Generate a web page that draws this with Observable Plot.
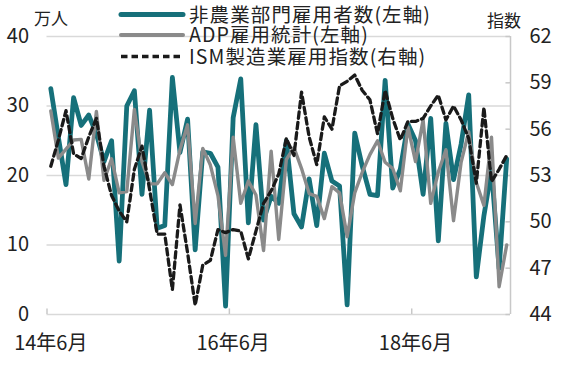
<!DOCTYPE html>
<html>
<head>
<meta charset="utf-8">
<script src="https://cdn.jsdelivr.net/npm/d3@7"></script>
<script src="https://cdn.jsdelivr.net/npm/@observablehq/plot@0.6"></script>
<style>
  html, body { margin: 0; padding: 0; background: #fff; }
  #chart svg { display: block; }
</style>
</head>
<body>
<div id="chart"></div>
<script>
// Monthly data, 2014-06 .. 2019-06 (61 months)
const nfp = [32.5, 25.5, 18.7, 31.2, 27.2, 28.7, 26, 22, 25, 7.7,
  30, 32.2, 17.3, 29.4, 12.4, 12.8, 34.1, 23.3, 28.1, 9.3,
  23.4, 23.2, 21.2, 1.2, 28.3, 33.9, 13.2, 27.3, 13.6, 17,
  16, 25, 14.5, 12.6, 19.5, 12.8, 23.2, 19.2, 18.5, 1.4,
  26.1, 21.3, 17.3, 17.1, 33.7, 18.2, 20.9, 27.4, 25, 17.3,
  28.2, 10.6, 27.5, 19.4, 24.5, 31.6, 5.4, 14.2, 20.8, 6.6,
  22.4];
const adp = [29.3, 22.5, 23.8, 25.1, 25.2, 19.5, 29.2, 19.3, 22.4, 17.5,
  17.7, 29.5, 22, 18.8, 18.8, 20.4, 18.7, 23.7, 27.3, 13.1,
  23.9, 21.5, 17.1, 8.5, 25.5, 16, 19.2, 17.2, 9.2, 23.5,
  10.8, 22.3, 24, 21, 17.4, 17, 13.8, 18.4, 17.5, 11.2,
  17.5, 20.5, 23, 25, 21.9, 21, 17.8, 27, 22, 28,
  16, 20.5, 23.7, 13.5, 21.9, 26.3, 19, 15.7, 25.5, 4,
  10];
const ism = [53.6, 55.3, 57.2, 54.4, 54.1, 55.5, 56.7, 53.6, 51.7, 50.7,
  50, 53.4, 54.9, 52.1, 49.2, 49.2, 45.6, 51.1, 48, 44.6,
  47.2, 47.5, 49.5, 49.3, 49.5, 49.4, 47.6, 49.4, 51.2, 52,
  53.1, 55.4, 54.3, 58.4, 55.5, 53.7, 56.8, 56, 58.8, 59.1,
  59.5, 58.5, 57.9, 55.7, 58.5, 56.7, 55.3, 56.5, 56.5, 56.7,
  57.5, 58.2, 56.6, 57.5, 56.6, 55.4, 52.5, 57.4, 52.6, 53.4,
  54.3];

const xTickIndex = [0, 24, 48];
const xTickLabels = ["14年6月", "16年6月", "18年6月"];
const leftTicks = [0, 10, 20, 30, 40];
const rightTicks = [44, 47, 50, 53, 56, 59, 62];
const seriesNames = ["非農業部門雇用者数(左軸)", "ADP雇用統計(左軸)", "ISM製造業雇用指数(右軸)"];
const leftUnit = "万人";
const rightUnit = "指数";

const TEAL = "#16707a", GRAY = "#8a8a8a", DASH = "#1a1a1a", GRID = "#d9d9d9", TXT = "#222";
const FONT = "'Noto Sans CJK JP', 'Noto Sans', sans-serif";

// right axis (44..62) mapped onto left scale (0..40)
const toL = r => (r - 44) * 40 / 18;
const fromL = v => v * 18 / 40 + 44;

const n = nfp.length;
const rows = d3.range(n).map(i => ({i, nfp: nfp[i], adp: adp[i], ism: toL(ism[i])}));

const chart = Plot.plot({
  width: 561,
  height: 386,
  marginLeft: 46.5,
  marginRight: 51,
  marginTop: 36,
  marginBottom: 72,
  style: {fontFamily: FONT, fontSize: "19px", color: TXT, background: "#fff"},
  x: {domain: [-0.5, n - 0.5]},
  y: {domain: [0, 40]},
  marks: [
    Plot.ruleY(leftTicks, {stroke: GRID, strokeWidth: 1.5}),
    Plot.ruleX([n - 0.5], {stroke: "#c8c8c8", strokeWidth: 1.5}),
    Plot.ruleX(xTickIndex.map(i => i - 0.5), {y1: 0, y2: 0.8, stroke: "#c8c8c8", strokeWidth: 1.5}),
    Plot.ruleY(rightTicks.map(toL), {x1: n - 0.5 - 0.6, x2: n - 0.5, stroke: "#c8c8c8", strokeWidth: 1.5}),
    Plot.axisY({ticks: leftTicks, tickSize: 0, tickPadding: 18, label: null, fontSize: 20}),
    Plot.axisY({anchor: "right", ticks: rightTicks.map(toL), tickFormat: d => Math.round(fromL(d)),
      tickSize: 0, tickPadding: 19, label: null, fontSize: 20}),
    Plot.axisX({ticks: xTickIndex, tickFormat: d => xTickLabels[xTickIndex.indexOf(d)],
      tickSize: 0, tickPadding: 21, label: null, fontSize: 20}),
    Plot.line(rows, {x: "i", y: "nfp", stroke: TEAL, strokeWidth: 4.8, strokeLinejoin: "round", strokeLinecap: "round"}),
    Plot.line(rows, {x: "i", y: "adp", stroke: GRAY, strokeWidth: 3.4, strokeLinejoin: "round", strokeLinecap: "round"}),
    Plot.line(rows, {x: "i", y: "ism", stroke: DASH, strokeWidth: 3.3, strokeDasharray: "6.5,4", strokeLinejoin: "round"})
  ]
});

document.getElementById("chart").appendChild(chart);

// legend and unit labels overlaid on the top of the SVG
const svg = d3.select(chart);
const lg = svg.append("g").attr("font-family", FONT).attr("fill", TXT).attr("text-anchor", "start");
const swatch = [
  {stroke: TEAL, w: 5, dash: null, y: 14.5},
  {stroke: GRAY, w: 4, dash: null, y: 35},
  {stroke: DASH, w: 3.3, dash: "6.5,4", y: 56.5}
];
swatch.forEach((s, k) => {
  const ln = lg.append("line").attr("x1", 121).attr("x2", 183).attr("y1", s.y).attr("y2", s.y)
    .attr("stroke", s.stroke).attr("stroke-width", s.w)
    .attr("stroke-linecap", s.dash ? "butt" : "round");
  if (s.dash) ln.attr("stroke-dasharray", s.dash);
  lg.append("text").attr("x", 189).attr("y", s.y).attr("dy", "0.36em")
    .attr("font-size", 19.5).attr("letter-spacing", 1.1).text(seriesNames[k]);
});
lg.append("text").attr("x", 34).attr("y", 19).attr("dy", "0.36em").attr("font-size", 17).text(leftUnit);
lg.append("text").attr("x", 487).attr("y", 21).attr("dy", "0.36em").attr("font-size", 17).text(rightUnit);
</script>
</body>
</html>
